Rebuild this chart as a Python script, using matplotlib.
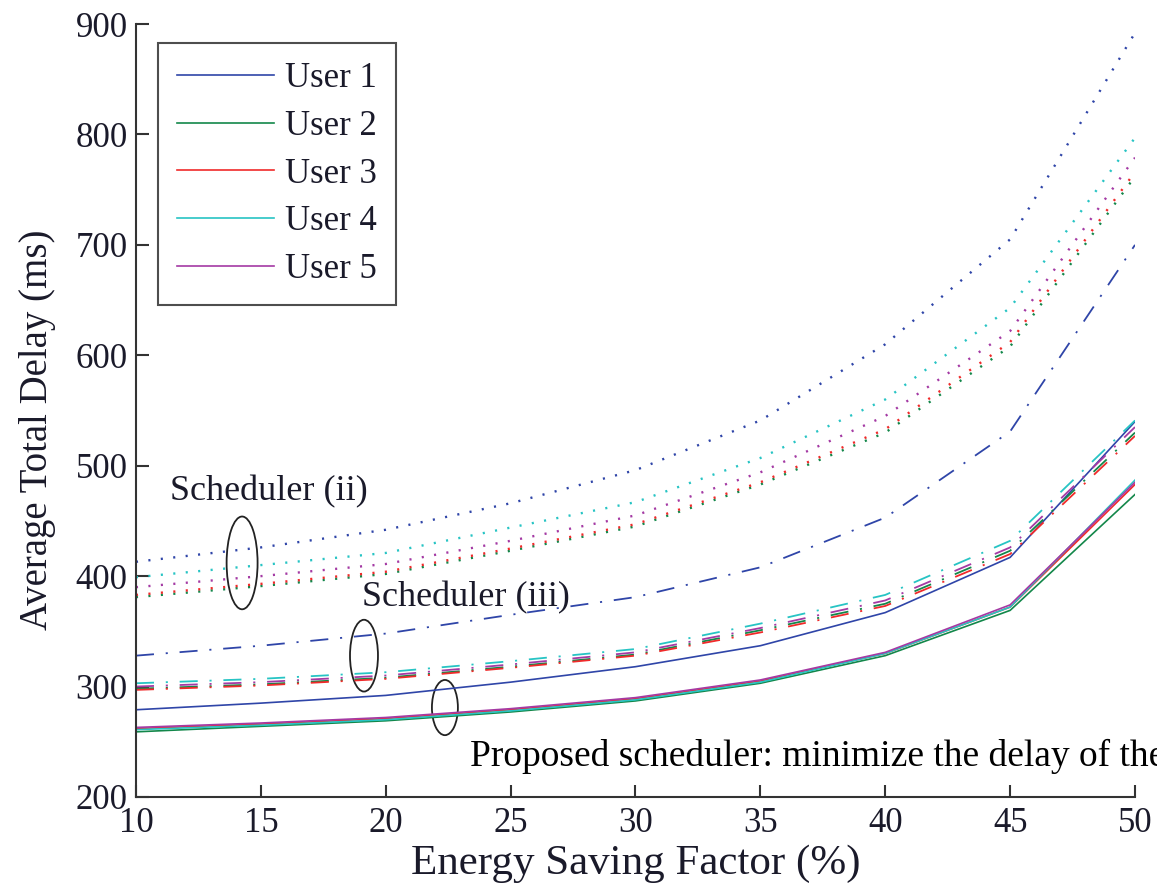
import numpy as np
import matplotlib
matplotlib.use("Agg")
import matplotlib.pyplot as plt
from matplotlib.patches import Ellipse

# energy saving factor (%)
esf = [10, 15, 20, 25, 30, 35, 40, 45, 50]
users = ["User 1", "User 2", "User 3", "User 4", "User 5"]
colors = ["#2f45a8", "#13874a", "#f02a2a", "#27c4c4", "#a43aa4"]

# proposed scheduler (solid)
prop_u1 = [279, 285, 292, 304, 318, 337, 367, 417, 540]
prop_u2 = [259, 264, 269, 277, 287, 303, 328, 369, 474]
prop_u3 = [262, 266, 271, 279, 289, 305, 330, 372, 483]
prop_u4 = [261, 265, 270, 278, 288, 304, 330, 372, 487]
prop_u5 = [263, 267, 272, 280, 290, 306, 331, 374, 485]

# scheduler (ii) (dotted)
s2_u1 = [413, 426, 442, 466, 496, 541, 610, 705, 892]
s2_u2 = [381, 391, 402, 423, 445, 483, 530, 608, 762]
s2_u3 = [383, 393, 404, 425, 447, 485, 533, 612, 766]
s2_u4 = [399, 410, 421, 444, 467, 507, 560, 643, 797]
s2_u5 = [390, 400, 411, 432, 455, 494, 545, 622, 779]

# scheduler (iii) (dash-dot)
s3_u1 = [328, 337, 348, 365, 381, 408, 453, 531, 700]
s3_u2 = [298, 302, 308, 318, 329, 351, 375, 423, 530]
s3_u3 = [297, 301, 307, 317, 328, 349, 373, 420, 527]
s3_u4 = [303, 307, 313, 323, 334, 357, 383, 432, 541]
s3_u5 = [300, 304, 310, 320, 331, 353, 378, 426, 535]

prop = [prop_u1, prop_u2, prop_u3, prop_u4, prop_u5]
sched2 = [s2_u1, s2_u2, s2_u3, s2_u4, s2_u5]
sched3 = [s3_u1, s3_u2, s3_u3, s3_u4, s3_u5]

plt.rcParams["font.family"] = ["Liberation Serif", "DejaVu Serif"]
plt.rcParams["lines.scale_dashes"] = False

fig = plt.figure(figsize=(11.57, 8.9), dpi=100)
ax = fig.add_axes([0.1175, 0.1045, 0.8635, 0.8685])

dot = (0, (1.5, 7.5))
dashdot = (0, (13, 8.5, 1.5, 8.5))
for i in range(5):
    ax.plot(esf, prop[i], color=colors[i], lw=1.2, label=users[i])
for i in range(5):
    ax.plot(esf, sched2[i], color=colors[i], lw=1.7, linestyle=dot)
for i in range(5):
    ax.plot(esf, sched3[i], color=colors[i], lw=1.3, linestyle=dashdot)

ax.set_xlim(10, 50)
ax.set_ylim(200, 900)
ax.set_xticks(range(10, 51, 5))
ax.set_yticks(range(200, 901, 100))
ax.spines["top"].set_visible(False)
ax.spines["right"].set_visible(False)
for s in ["left", "bottom"]:
    ax.spines[s].set_linewidth(1.5)
    ax.spines[s].set_color("#333333")
ax.tick_params(direction="in", length=9, width=1.5, color="#333333",
               labelsize=25, labelcolor="#1a1a2a")
ax.tick_params(axis="x", pad=7)
ax.tick_params(axis="y", pad=6)

ax.set_xlabel("Energy Saving Factor (%)", fontsize=31, color="#1a1a2a")
ax.set_ylabel("Average Total Delay (ms)", fontsize=28, color="#1a1a2a")
ax.xaxis.set_label_coords(0.5, -0.062)
ax.yaxis.set_label_coords(-0.08, 0.475)

# annotations
ax.text(11.36, 476, "Scheduler (ii)", fontsize=26, va="center", ha="left", color="#1a1a2a")
ax.text(19.05, 380, "Scheduler (iii)", fontsize=26, va="center", ha="left", color="#1a1a2a")
ax.text(23.37, 237, "Proposed scheduler: minimize the delay of the", fontsize=27,
        va="center", ha="left", color="black", clip_on=False)
ax.add_patch(Ellipse((14.25, 412), 1.24, 84, fill=False, ec="#222222", lw=1.3))
ax.add_patch(Ellipse((19.13, 328), 1.12, 65, fill=False, ec="#222222", lw=1.3))
ax.add_patch(Ellipse((22.37, 281), 1.04, 50, fill=False, ec="#222222", lw=1.3))

leg = ax.legend(loc="upper left", bbox_to_anchor=(0.022, 0.975), fontsize=25,
                frameon=True, fancybox=False, handlelength=2.8, handletextpad=0.3,
                labelspacing=0.42, borderpad=0.55, borderaxespad=0)
leg.get_frame().set_edgecolor("#222222")
leg.get_frame().set_linewidth(1.5)
for t in leg.get_texts():
    t.set_color("#1a1a2a")

fig.savefig("out.png", dpi=100)
